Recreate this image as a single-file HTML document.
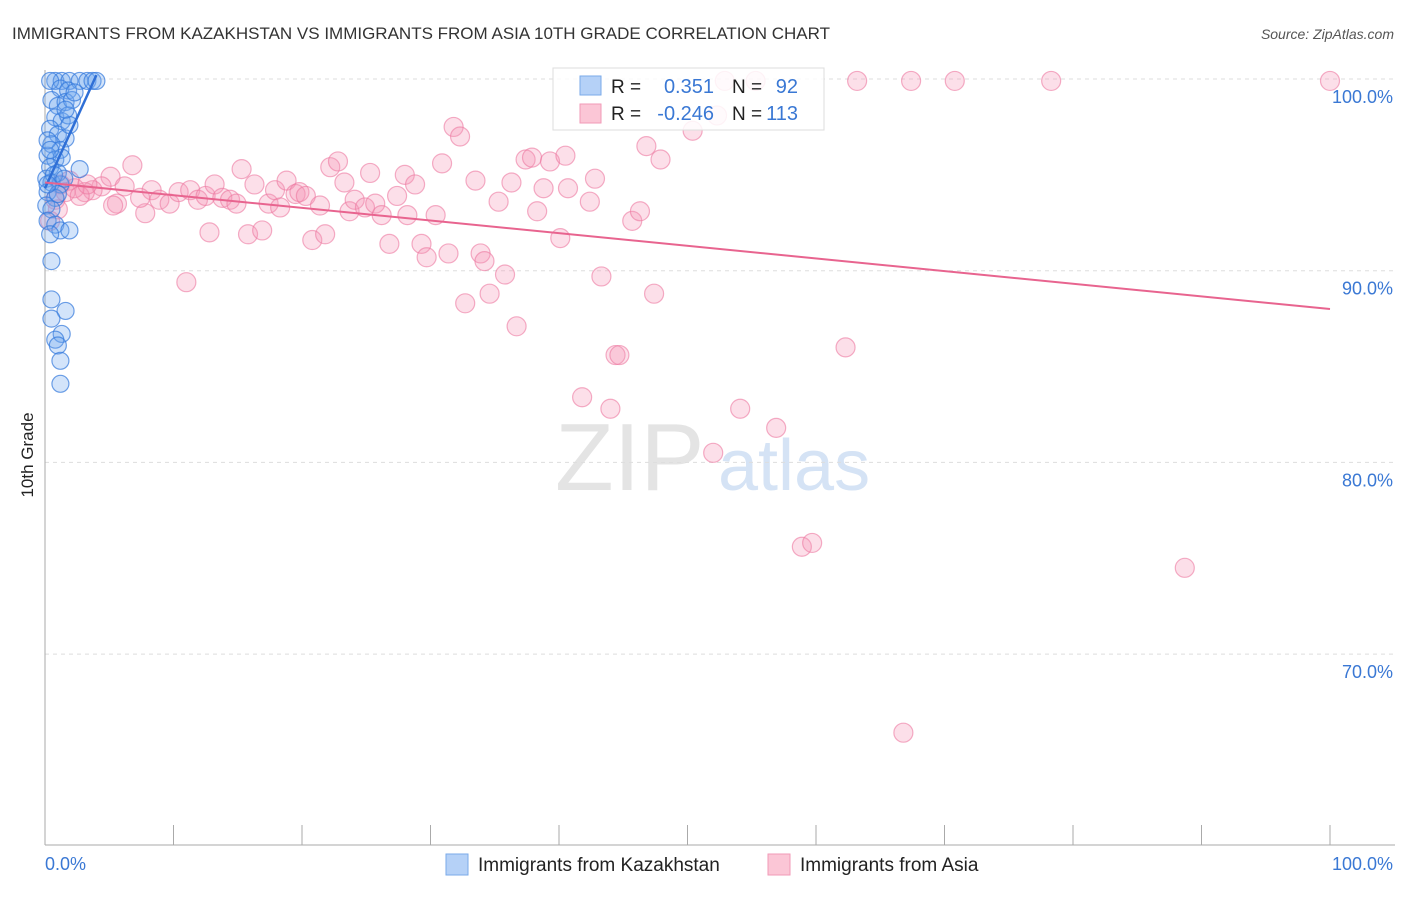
<!DOCTYPE html>
<html><head><meta charset="utf-8"><style>
body{margin:0;background:#fff;font-family:"Liberation Sans",sans-serif;}
svg text{font-family:"Liberation Sans",sans-serif;}
</style></head><body>
<svg id="chart" width="1406" height="892" xmlns="http://www.w3.org/2000/svg">
<text x="12" y="39" font-size="17" fill="#333">IMMIGRANTS FROM KAZAKHSTAN VS IMMIGRANTS FROM ASIA 10TH GRADE CORRELATION CHART</text>
<text x="1394" y="39" font-size="14" fill="#555" font-style="italic" text-anchor="end">Source: ZipAtlas.com</text>
<text transform="translate(33,455) rotate(-90)" font-size="17" fill="#222" text-anchor="middle">10th Grade</text>
<g><text x="555" y="490" font-size="96" fill="#e4e4e4" font-family="Liberation Serif">ZIP</text><text x="718" y="490" font-size="72" fill="#d5e3f5">atlas</text></g>
<g id="grid"></g><g id="axes"></g><g id="pts"></g><g id="lines"></g>
<g>
<rect x="553" y="68" width="271" height="62" fill="#fff" fill-opacity="0.85" stroke="#ddd"/>
<rect x="580" y="76" width="21" height="19" fill="#b5d1f7" stroke="#7aaae8"/>
<rect x="580" y="104" width="21" height="19" fill="#fbc6d6" stroke="#f29ab7"/>
<text x="611" y="93" font-size="19" fill="#222">R = </text><text x="714" y="93" font-size="20" fill="#3a78d4" text-anchor="end">0.351</text>
<text x="732" y="93" font-size="19" fill="#222">N = </text><text x="798" y="93" font-size="20" fill="#3a78d4" text-anchor="end">92</text>
<text x="611" y="120" font-size="19" fill="#222">R = </text><text x="714" y="120" font-size="20" fill="#3a78d4" text-anchor="end">-0.246</text>
<text x="732" y="120" font-size="19" fill="#222">N = </text><text x="798" y="120" font-size="20" fill="#3a78d4" text-anchor="end">113</text>
</g>
<g>
<rect x="446" y="854" width="22" height="21" fill="#b5d1f7" stroke="#7aaae8"/>
<text x="478" y="871" font-size="19" fill="#222">Immigrants from Kazakhstan</text>
<rect x="768" y="854" width="22" height="21" fill="#fbc6d6" stroke="#f29ab7"/>
<text x="800" y="871" font-size="19" fill="#222">Immigrants from Asia</text>
</g>
</svg>
<script>
const yTicks=[100,90,80,70];
const yTickLabels=["100.0%","90.0%","80.0%","70.0%"];
const xTickLabels=["0.0%","100.0%"];
const blueX=[0.8,1.3,1.9,2.7,3.3,3.7,4.0,0.4,1.2,1.8,0.5,1.0,1.6,2.1,0.8,1.3,0.4,1.0,1.6,0.5,1.2,0.2,0.8,1.3,0.4,1.0,2.7,0.1,0.5,1.2,0.2,0.8,0.1,0.5,0.2,0.8,1.2,1.9,0.4,0.5,0.5,1.6,0.5,1.3,0.8,1.0,1.2,1.2,2.3,1.8,1.9,0.2,0.7,1.5,1.0,0.2,0.4,1.6];
const blueY=[99.9,99.9,99.9,99.9,99.9,99.9,99.9,99.9,99.5,99.4,98.9,98.6,98.8,98.9,98.0,97.8,97.4,97.1,96.9,96.6,96.3,96.0,95.8,95.9,95.4,95.1,95.3,94.8,94.6,94.5,94.1,93.8,93.4,93.2,92.6,92.4,92.1,92.1,91.9,90.5,88.5,87.9,87.5,86.7,86.4,86.1,85.3,84.1,99.3,98.1,97.6,96.8,95.0,94.8,94.0,94.5,96.3,98.4];
const pinkX=[6.8,5.1,4.4,6.2,3.7,3.1,5.6,5.3,7.8,8.3,8.9,9.7,10.4,11.3,11.9,12.5,13.2,13.8,14.4,14.9,15.3,16.3,15.8,16.9,17.4,17.9,18.8,18.3,19.5,19.8,20.3,21.4,20.8,21.8,22.2,22.8,23.3,23.7,24.1,24.9,25.3,25.7,26.2,26.8,27.4,28.0,28.8,28.2,29.3,29.7,30.4,30.9,31.4,31.8,32.3,32.7,33.5,33.9,34.2,34.6,35.3,35.8,36.3,36.7,37.4,37.9,38.3,38.8,39.3,40.1,40.5,40.7,41.8,42.4,42.8,43.3,44.0,44.4,44.7,45.7,46.3,46.8,47.4,47.9,50.4,52.0,52.3,52.9,54.1,55.3,56.9,58.9,59.7,62.3,63.2,66.8,67.4,70.8,78.3,88.7,100,1.2,0.8,1.6,0.4,1.9,1.0,2.3,2.7,3.3,7.4,11.0,12.8];
const pinkY=[95.5,94.9,94.4,94.4,94.2,94.1,93.5,93.4,93.0,94.2,93.7,93.5,94.1,94.2,93.7,93.9,94.5,93.8,93.7,93.5,95.3,94.5,91.9,92.1,93.5,94.2,94.7,93.3,94.0,94.1,93.9,93.4,91.6,91.9,95.4,95.7,94.6,93.1,93.7,93.3,95.1,93.5,92.9,91.4,93.9,95.0,94.5,92.9,91.4,90.7,92.9,95.6,90.9,97.5,97.0,88.3,94.7,90.9,90.5,88.8,93.6,89.8,94.6,87.1,95.8,95.9,93.1,94.3,95.7,91.7,96.0,94.3,83.4,93.6,94.8,89.7,82.8,85.6,85.6,92.6,93.1,96.5,88.8,95.8,97.3,80.5,98.1,99.9,82.8,99.9,81.8,75.6,75.8,86.0,99.9,65.9,99.9,99.9,99.9,74.5,99.9,94.5,93.7,94.1,92.6,94.7,93.2,94.3,93.9,94.5,93.8,89.4,92.0];
const blueTrendX=[0,4.0];
const blueTrendY=[94.3,100.2];
const pinkTrendX=[0,100];
const pinkTrendY=[94.6,88.0];
const NS="http://www.w3.org/2000/svg";
function sx(v){return 45+v*12.85;}
function sy(v){return 79+(100-v)*19.17;}
function mk(tag,attrs,parent){const e=document.createElementNS(NS,tag);for(const k in attrs)e.setAttribute(k,attrs[k]);document.getElementById(parent).appendChild(e);return e;}
yTicks.forEach((t,i)=>{
 const l=mk('line',{x1:45,x2:1395,y1:sy(t),y2:sy(t),stroke:'#ddd','stroke-dasharray':'4,4'},'grid');
 
 
 const tx=mk('text',{x:1393,y:sy(t)+24,'font-size':18,fill:'#3a78d4','text-anchor':'end'},'grid');
 tx.textContent=yTickLabels[i];
 
 
});
const ax=mk('line',{x1:45,x2:45,y1:70,y2:845,stroke:'#aaa'},'axes');


const bx=mk('line',{x1:45,x2:1395,y1:845,y2:845,stroke:'#aaa'},'axes');


for(let i=0;i<=10;i++){
 const t=mk('line',{x1:sx(i*10),x2:sx(i*10),y1:825,y2:845,stroke:'#aaa'},'axes');
 
 
}
const xl0=mk('text',{x:45,y:870,'font-size':18,fill:'#3a78d4'},'axes');xl0.textContent=xTickLabels[0];


const xl1=mk('text',{x:1393,y:870,'font-size':18,fill:'#3a78d4','text-anchor':'end'},'axes');xl1.textContent=xTickLabels[1];


pinkX.forEach((v,i)=>{
 const c=mk('circle',{cx:sx(v),cy:sy(pinkY[i]),r:9.5,fill:'rgba(244,150,182,0.3)',stroke:'rgba(236,120,160,0.6)','stroke-width':1.2},'pts');
 
 
});
blueX.forEach((v,i)=>{
 const c=mk('circle',{cx:sx(v),cy:sy(blueY[i]),r:8.5,fill:'rgba(110,165,240,0.3)',stroke:'rgba(50,120,220,0.7)','stroke-width':1.2},'pts');
 
 
});
const bl=mk('line',{x1:sx(blueTrendX[0]),y1:sy(blueTrendY[0]),x2:sx(blueTrendX[1]),y2:sy(blueTrendY[1]),stroke:'#2f6fd6','stroke-width':2.5},'lines');


const pl=mk('line',{x1:sx(pinkTrendX[0]),y1:sy(pinkTrendY[0]),x2:sx(pinkTrendX[1]),y2:sy(pinkTrendY[1]),stroke:'#e8648f','stroke-width':2},'lines');


</script>
</body></html>
